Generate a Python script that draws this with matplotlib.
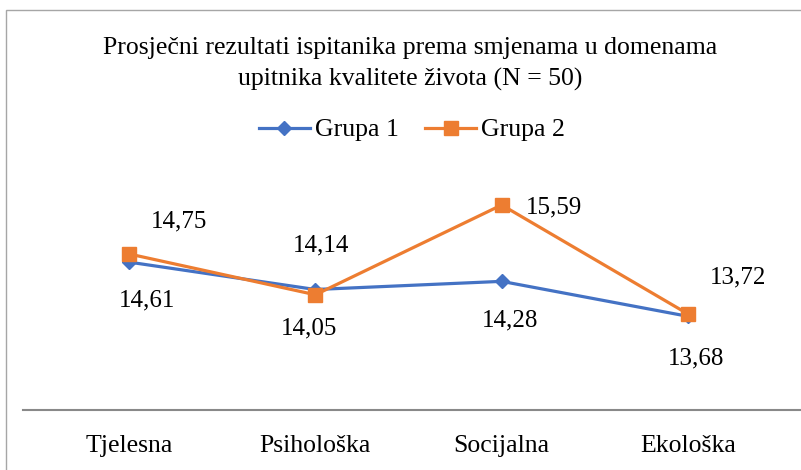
import matplotlib
matplotlib.use("Agg")
import matplotlib.pyplot as plt
from matplotlib.patches import Rectangle

categories = ["Tjelesna", "Psihološka", "Socijalna", "Ekološka"]
grupa1 = [14.61, 14.14, 14.28, 13.68]
grupa2 = [14.75, 14.05, 15.59, 13.72]
labels1 = ["14,61", "14,14", "14,28", "13,68"]
labels2 = ["14,75", "14,05", "15,59", "13,72"]
title = "Prosječni rezultati ispitanika prema smjenama u domenama\nupitnika kvalitete života (N = 50)"

plt.rcParams['font.family'] = ['Liberation Serif', 'DejaVu Serif']

W, H = 801, 470
fig = plt.figure(figsize=(W / 100, H / 100), dpi=100)

# outer chart border
fig.patches.append(Rectangle((6 / W, -0.1), 1.2, (H - 10) / H + 0.1, transform=fig.transFigure,
                             fill=False, edgecolor="#A6A6A6", linewidth=1.0))

ax_left, ax_right = 23, 800
ax_top, ax_bottom = 170, 410
ax = fig.add_axes([ax_left / W, (H - ax_bottom) / H, (ax_right - ax_left) / W, (ax_bottom - ax_top) / H])
ax.set_facecolor("none")

x = list(range(len(categories)))
blue = "#4472C4"
orange = "#ED7D31"
ax.plot(x, grupa1, color=blue, lw=2.3, marker="D", markersize=7.5, label="Grupa 1", zorder=3)
ax.plot(x, grupa2, color=orange, lw=2.3, marker="s", markersize=10, label="Grupa 2", zorder=4)

scale = 58.3
ax.set_xlim(-0.569, 3.601)
ax.set_ylim(13.72 - (ax_bottom - 314) / scale, 13.72 + (314 - ax_top) / scale)

off1 = [(18, -38), (6, 44), (8, -39), (8, -42)]
off2 = [(50, 32), (-6, -34), (52, -2), (50, 37)]
for i in x:
    ax.annotate(labels1[i], (i, grupa1[i]), xytext=off1[i], textcoords="offset pixels",
                ha="center", va="center", fontsize=18, color="black")
    ax.annotate(labels2[i], (i, grupa2[i]), xytext=off2[i], textcoords="offset pixels",
                ha="center", va="center", fontsize=18, color="black")

for s in ["top", "left", "right"]:
    ax.spines[s].set_visible(False)
ax.spines["bottom"].set_color("#898989")
ax.spines["bottom"].set_linewidth(1.5)
ax.set_yticks([])
ax.set_xticks(x)
ax.set_xticklabels(categories, fontsize=18.5)
ax.tick_params(axis="x", length=0, pad=18)

fig.text(410 / W, 1 - 64 / H, title, ha="center", va="center", fontsize=18.5, linespacing=1.5)

leg = fig.legend(loc="center", bbox_to_anchor=(412 / W, 1 - 130 / H), ncol=2, frameon=False,
                 fontsize=18.5, handlelength=2.0, handletextpad=0.2, columnspacing=1.0)

fig.savefig("out.png", dpi=100)
